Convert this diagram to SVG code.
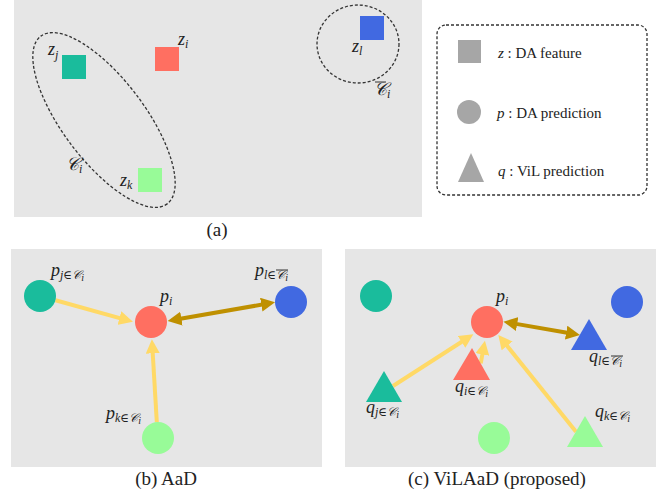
<svg xmlns="http://www.w3.org/2000/svg" width="659" height="495" viewBox="0 0 659 495">
  <style>
    .panel { fill: #e6e6e6; }
    .math { font-family: "Liberation Serif", "DejaVu Serif", serif; font-style: italic; fill: #222; }
    .lbl { font-size: 18px; }
    .sub { font-size: 12px; }
    .sub2 { font-size: 10px; }
    .cap { font-family: "Liberation Serif", "DejaVu Serif", serif; font-size: 19px; fill: #222; }
    .leg { font-family: "Liberation Serif", "DejaVu Serif", serif; font-size: 15px; fill: #222; }
    .dash { fill: none; stroke: #333; stroke-width: 1.3; stroke-dasharray: 3 2; }
    .bar { stroke: #333; stroke-width: 1; }
    .pos { stroke: #ffd966; stroke-width: 4; fill: none; marker-end: url(#headY); }
    .neg { stroke: #bf9000; stroke-width: 4; fill: none; marker-start: url(#headG); marker-end: url(#headG); }
    .cj { fill: #1abc9c; }
    .ci { fill: #ff6f61; }
    .cl { fill: #4169e1; }
    .ck { fill: #98fb98; }
    .gray { fill: #a6a6a6; }
  </style>
  <defs>
    <marker id="headY" markerUnits="userSpaceOnUse" markerWidth="16" markerHeight="14" refX="4" refY="7" orient="auto">
      <path d="M0,0 L14,7 L0,14 z" fill="#ffd966"/>
    </marker>
    <marker id="headG" markerUnits="userSpaceOnUse" markerWidth="16" markerHeight="14" refX="4" refY="7" orient="auto-start-reverse">
      <path d="M0,0 L14,7 L0,14 z" fill="#bf9000"/>
    </marker>
  </defs>

  <!-- (a) feature space -->
  <rect class="panel" x="14" y="0" width="408" height="217"/>
  <g id="cluster-ci">
    <ellipse class="dash" cx="104" cy="120" rx="105" ry="41" transform="rotate(53 104 120)"/>
    <text class="math lbl" x="66" y="170">𝒞<tspan class="sub" dy="3">i</tspan></text>
  </g>
  <g id="cluster-cbar">
    <ellipse class="dash" cx="358" cy="44" rx="41" ry="39"/>
    <line class="bar" x1="375" y1="82" x2="386" y2="82"/>
    <text class="math lbl" x="374" y="95">𝒞<tspan class="sub" dy="3">i</tspan></text>
  </g>
  <g id="z-j">
    <rect class="cj" x="62" y="55" width="24" height="24"/>
    <text class="math lbl" x="48" y="55">z<tspan class="sub" dy="4">j</tspan></text>
  </g>
  <g id="z-i">
    <rect class="ci" x="155" y="47" width="24" height="24"/>
    <text class="math lbl" x="178" y="45">z<tspan class="sub" dy="3">i</tspan></text>
  </g>
  <g id="z-k">
    <rect class="ck" x="138" y="168" width="24" height="24"/>
    <text class="math lbl" x="120" y="186">z<tspan class="sub" dy="3">k</tspan></text>
  </g>
  <g id="z-l">
    <rect class="cl" x="360" y="16" width="24" height="24"/>
    <text class="math lbl" x="352" y="52">z<tspan class="sub" dy="3">l</tspan></text>
  </g>
  <text class="cap" x="217" y="236" text-anchor="middle">(a)</text>

  <!-- legend -->
  <g id="legend">
    <rect class="dash" x="437" y="25" width="210" height="170" rx="9"/>
    <rect class="gray" x="458" y="40" width="23" height="23"/>
    <text class="leg" x="498" y="58"><tspan font-style="italic">z</tspan> : DA feature</text>
    <circle class="gray" cx="469" cy="112" r="12"/>
    <text class="leg" x="497" y="118"><tspan font-style="italic">p</tspan> : DA prediction</text>
    <polygon class="gray" points="471,153 484,182 458,182"/>
    <text class="leg" x="498" y="176"><tspan font-style="italic">q</tspan> : ViL prediction</text>
  </g>

  <!-- (b) AaD -->
  <rect class="panel" x="11" y="249" width="311" height="218"/>
  <g id="b-connectors">
    <line class="pos" x1="55.5" y1="300.2" x2="123.3" y2="319.1"/>
    <line class="pos" x1="156.8" y1="422" x2="152.5" y2="349.3"/>
    <line class="neg" x1="177.5" y1="319.3" x2="265.2" y2="304"/>
  </g>
  <g id="b-p-j">
    <circle class="cj" cx="40" cy="296" r="16"/>
    <text class="math lbl" x="51" y="276">p<tspan class="sub" dy="3">j∈𝒞</tspan><tspan class="sub2" dy="2">i</tspan></text>
  </g>
  <g id="b-p-i">
    <circle class="ci" cx="151" cy="322" r="16"/>
    <text class="math lbl" x="160" y="302">p<tspan class="sub" dy="3">i</tspan></text>
  </g>
  <g id="b-p-l">
    <circle class="cl" cx="291" cy="302" r="16"/>
    <line class="bar" x1="276" y1="270" x2="288" y2="270"/>
    <text class="math lbl" x="255" y="276">p<tspan class="sub" dy="3">l∈𝒞</tspan><tspan class="sub2" dy="2">i</tspan></text>
  </g>
  <g id="b-p-k">
    <circle class="ck" cx="158" cy="438" r="16"/>
    <text class="math lbl" x="106" y="419">p<tspan class="sub" dy="3">k∈𝒞</tspan><tspan class="sub2" dy="2">i</tspan></text>
  </g>
  <text class="cap" x="166" y="485" text-anchor="middle">(b) AaD</text>

  <!-- (c) ViLAaD -->
  <rect class="panel" x="345" y="249" width="311" height="218"/>
  <g id="c-connectors">
    <line class="pos" x1="393" y1="386" x2="464.9" y2="339.7"/>
    <line class="pos" x1="480.7" y1="363.3" x2="483.1" y2="350.5"/>
    <line class="pos" x1="576" y1="431.7" x2="504.6" y2="342.8"/>
    <line class="neg" x1="513.2" y1="323.4" x2="570.1" y2="333.3"/>
  </g>
  <g id="c-p-j"><circle class="cj" cx="376" cy="296" r="16"/></g>
  <g id="c-p-l"><circle class="cl" cx="627" cy="302" r="16"/></g>
  <g id="c-p-k"><circle class="ck" cx="494" cy="438" r="16"/></g>
  <g id="c-p-i">
    <circle class="ci" cx="487" cy="322" r="16"/>
    <text class="math lbl" x="496" y="302">p<tspan class="sub" dy="3">i</tspan></text>
  </g>
  <g id="c-q-j">
    <polygon class="cj" points="384,371 402,402 366,402"/>
    <text class="math lbl" x="366" y="413">q<tspan class="sub" dy="3">j∈𝒞</tspan><tspan class="sub2" dy="2">i</tspan></text>
  </g>
  <g id="c-q-i">
    <polygon class="ci" points="472,348 490,380 453,380"/>
    <text class="math lbl" x="455" y="392">q<tspan class="sub" dy="3">i∈𝒞</tspan><tspan class="sub2" dy="2">i</tspan></text>
  </g>
  <g id="c-q-l">
    <polygon class="cl" points="589,319 607,350 571,350"/>
    <line class="bar" x1="611" y1="356" x2="623" y2="356"/>
    <text class="math lbl" x="589" y="362">q<tspan class="sub" dy="3">l∈𝒞</tspan><tspan class="sub2" dy="2">i</tspan></text>
  </g>
  <g id="c-q-k">
    <polygon class="ck" points="585,416 603,447 567,447"/>
    <text class="math lbl" x="595" y="417">q<tspan class="sub" dy="3">k∈𝒞</tspan><tspan class="sub2" dy="2">i</tspan></text>
  </g>
  <text class="cap" x="497" y="485" text-anchor="middle">(c) ViLAaD (proposed)</text>
</svg>
